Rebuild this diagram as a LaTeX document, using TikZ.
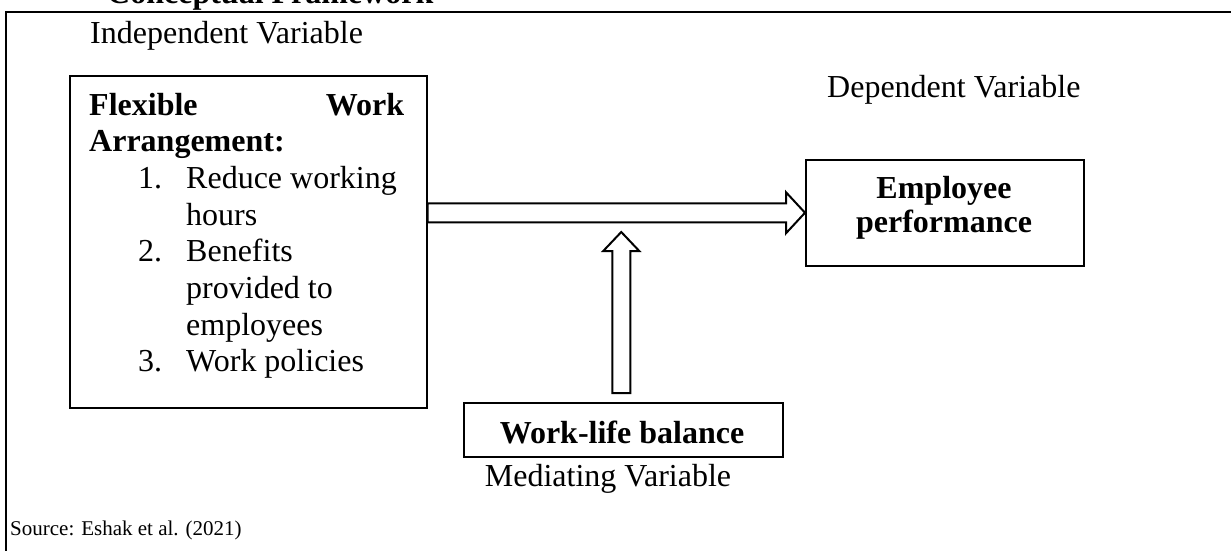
\documentclass[tikz,border=0pt]{standalone}
\usepackage{fontspec}
\setmainfont{Liberation Serif}
\usetikzlibrary{calc}
\begin{document}
\begin{tikzpicture}[x=1pt,y=-1pt,
  txt/.style={inner sep=0pt, font=\fontsize{32}{36.8}\selectfont},
  btxt/.style={inner sep=0pt, font=\fontsize{32}{36.8}\selectfont\bfseries},
  box/.style={draw, line width=1.5pt, inner sep=0pt, anchor=north west},
  fatarrow/.style={draw, line width=2pt, fill=white, line join=miter},
  frame/.style={line width=2.5pt}
]
\useasboundingbox (0,0) rectangle (1231,551);
% outer frame (top and left only)
\coordinate (fbl) at (6,600);
\coordinate (ftl) at (6,12);
\coordinate (ftr) at (1240,12);
\draw[frame] (fbl) -- (ftl) -- (ftr);
% title (cut off)
\node[btxt, anchor=base west] (title) at (107,4) {Conceptual Framework};
% labels
\node[txt, anchor=base west] (ind) at (90,44) {Independent Variable};
\node[txt, anchor=base west] (dep) at (827,97) {Dependent Variable};
% boxes
\node[box, minimum width=357pt, minimum height=332pt] (fwa) at (69,75) {};
\node[box, minimum width=278pt, minimum height=106pt] (ep) at (805,159) {};
\node[box, minimum width=319pt, minimum height=54pt] (wlb) at (463,402) {};
% left box text
\node[btxt, anchor=base west] (f1) at (89,115) {\hbox to 315pt{Flexible\hfill Work}};
\node[btxt, anchor=base west] (f2) at (89,151.7) {Arrangement:};
\node[txt, anchor=base west] (n1) at (138,188.4) {1.};
\node[txt, anchor=base west] (i1a) at (186,188.4) {Reduce working};
\node[txt, anchor=base west] (i1b) at (186,225.1) {hours};
\node[txt, anchor=base west] (n2) at (138,261.8) {2.};
\node[txt, anchor=base west] (i2a) at (186,261.8) {Benefits};
\node[txt, anchor=base west] (i2b) at (186,298.5) {provided to};
\node[txt, anchor=base west] (i2c) at (186,335.2) {employees};
\node[txt, anchor=base west] (n3) at (138,371.9) {3.};
\node[txt, anchor=base west] (i3a) at (186,371.9) {Work policies};
% other box texts
\node[btxt, anchor=base] (ep1) at (944,198) {Employee};
\node[btxt, anchor=base] (ep2) at (944,232) {performance};
\node[btxt, anchor=base] (wlbt) at (622,443) {Work-life balance};
\node[txt, anchor=base] (med) at (608,486) {Mediating Variable};
% source
\node[inner sep=0pt, anchor=base west, font=\fontsize{21}{24}\selectfont] (src) at (10,535) {Source: Eshak et al. (2021)};
% horizontal block arrow fwa -> ep
\coordinate (hs) at (fwa.east |- ep.west);
\draw[fatarrow] ($(hs)+(0,-9.5)$) -- ($(ep.west)+(-19,-9.5)$) -- ($(ep.west)+(-19,-20.5)$)
  -- (ep.west) -- ($(ep.west)+(-19,20.5)$) -- ($(ep.west)+(-19,9.5)$) -- ($(hs)+(0,9.5)$) -- cycle;
% vertical block arrow wlb -> horizontal arrow
\coordinate (vb) at ($(wlb.north)+(-2,-9)$);
\coordinate (vt) at (vb |- 0,232);
\draw[fatarrow] ($(vb)+(-9,0)$) -- ($(vt)+(-9,19)$) -- ($(vt)+(-18,19)$) -- (vt)
  -- ($(vt)+(18,19)$) -- ($(vt)+(9,19)$) -- ($(vb)+(9,0)$) -- cycle;
\end{tikzpicture}
\end{document}
